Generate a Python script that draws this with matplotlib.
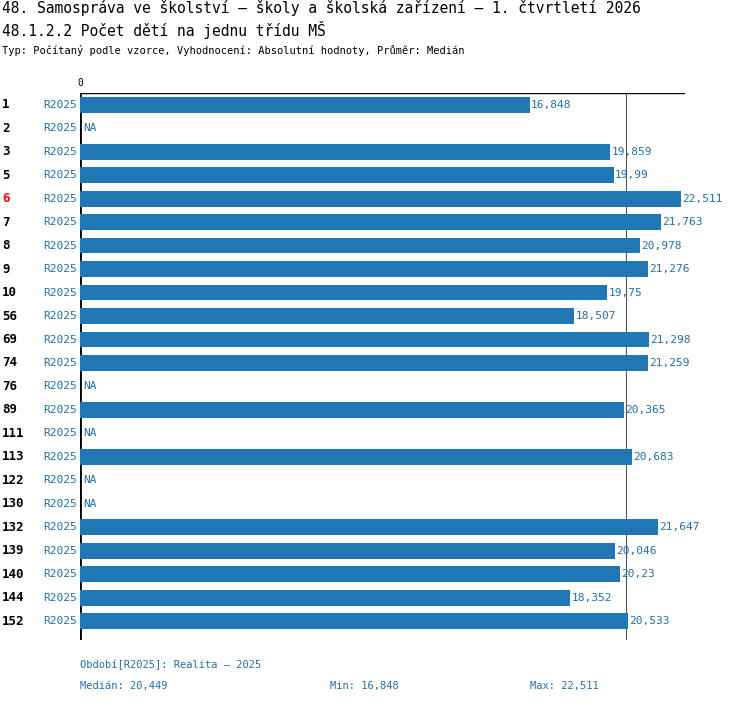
import matplotlib
matplotlib.use("Agg")
import matplotlib.pyplot as plt
import numpy as np

categories = ["1","2","3","5","6","7","8","9","10","56","69","74","76","89","111","113","122","130","132","139","140","144","152"]
values = [16.848, None, 19.859, 19.99, 22.511, 21.763, 20.978, 21.276, 19.75, 18.507, 21.298, 21.259, None, 20.365, None, 20.683, None, None, 21.647, 20.046, 20.23, 18.352, 20.533]
labels = ["16,848","NA","19,859","19,99","22,511","21,763","20,978","21,276","19,75","18,507","21,298","21,259","NA","20,365","NA","20,683","NA","NA","21,647","20,046","20,23","18,352","20,533"]
median = 20.449
highlight = "6"

W, H = 750, 704
fig = plt.figure(figsize=(W/100, H/100), dpi=100)
plt.rcParams['font.family'] = ['DejaVu Sans Mono']
blue = "#1f77b4"
tblue = "#1f6fb4"

ax = fig.add_axes([80/W, 1-640/H, 605/W, (640-93)/H])
n = len(categories)
xmax = 22.511 * 605 / 601
ax.set_xlim(0, xmax)
ax.set_ylim(n - 0.5 + 0.3, -0.5 - 0.0)
for s in ax.spines.values():
    s.set_visible(False)
ax.set_xticks([]); ax.set_yticks([])
ax.axhline(-0.5, color="black", lw=1)
ax.axvline(0, color="black", lw=2)
ax.axvline(median, color="#555555", lw=0.8)
for i, (c, v, l) in enumerate(zip(categories, values, labels)):
    if v is not None:
        ax.barh(i, v, height=0.67, color=blue, zorder=2)
        ax.text(v + 0.05, i, l, va="center", ha="left", fontsize=8, color=tblue)
    else:
        ax.text(0.12, i, l, va="center", ha="left", fontsize=8, color=tblue)
    ax.text(-0.1, i, "R2025", va="center", ha="right", fontsize=8, color=tblue)
    ax.text(-78/605*xmax + 0.0, i, c, va="center", ha="left", fontsize=9, fontweight="bold",
            color="red" if c == highlight else "black")
ax.text(0, -0.7, "0", ha="center", va="bottom", fontsize=7)

fig.text(2/W, 1-8/H, "48. Samospráva ve školství – školy a školská zařízení – 1. čtvrtletí 2026",
         fontsize=10.5, va="center", ha="left")
fig.text(2/W, 1-30/H, "48.1.2.2 Počet dětí na jednu třídu MŠ", fontsize=10.5, va="center", ha="left")
fig.text(2/W, 1-50/H, "Typ: Počítaný podle vzorce, Vyhodnocení: Absolutní hodnoty, Průměr: Medián",
         fontsize=7.5, va="center", ha="left")
fig.text(80/W, 1-665/H, "Období[R2025]: Realita – 2025", fontsize=7.5, color=tblue, va="center")
fig.text(80/W, 1-686/H, "Medián: 20,449", fontsize=7.5, color=tblue, va="center")
fig.text(330/W, 1-686/H, "Min: 16,848", fontsize=7.5, color=tblue, va="center")
fig.text(530/W, 1-686/H, "Max: 22,511", fontsize=7.5, color=tblue, va="center")
fig.savefig("out.png", dpi=100)
